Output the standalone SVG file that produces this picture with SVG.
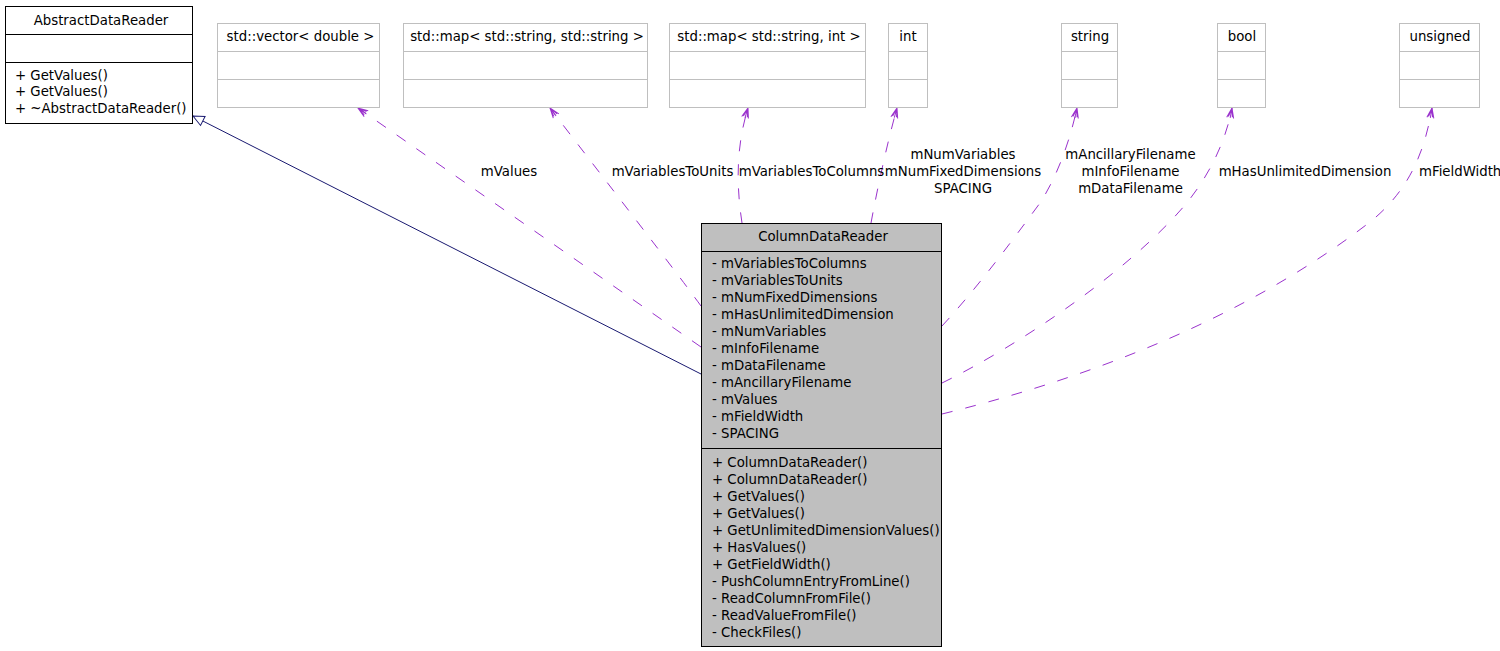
<svg xmlns="http://www.w3.org/2000/svg" width="1500" height="651" viewBox="0 0 1500 651">
<style>
text{font-family:"DejaVu Sans","Liberation Sans",sans-serif;font-size:13.3px;fill:#000}
.c{text-anchor:middle}
.box{fill:#fff;stroke:#000;stroke-width:1}
.gbox{fill:#fff;stroke:#bfbfbf;stroke-width:1}
.main{fill:#bfbfbf;stroke:#000;stroke-width:1}
.sep{stroke:#000;stroke-width:1}
.gsep{stroke:#bfbfbf;stroke-width:1}
.use{fill:none;stroke:#9a32cd;stroke-width:1;stroke-dasharray:11,13;marker-end:url(#vee)}
.inh{fill:none;stroke:#191970;stroke-width:1;marker-end:url(#tri)}
</style>
<defs>
<marker id="vee" viewBox="-12 -6 14 12" refX="0" refY="0" markerWidth="14" markerHeight="12" markerUnits="userSpaceOnUse" orient="auto">
<path d="M-10,-3.5 L0,0 L-10,3.5 M-10,0 L0,0 M-9,-2 L0,0 L-9,2" fill="none" stroke="#9a32cd" stroke-width="1"/>
</marker>
<marker id="tri" viewBox="-13 -7 15 14" refX="0" refY="0" markerWidth="15" markerHeight="14" markerUnits="userSpaceOnUse" orient="auto">
<path d="M0,0 L-11,-5 L-11,5 Z" fill="#fff" stroke="#191970" stroke-width="1"/>
</marker>
</defs>

<g id="connectors">
<path class="inh" d="M701,374 L193,116"/>
<path class="use" d="M701,347 L358,108"/>
<path class="use" d="M701,306 C675,270 605,180 550,108"/>
<path class="use" d="M742,223 C737,190 735,150 748,108"/>
<path class="use" d="M871,223 C878,185 888,140 897,108"/>
<path class="use" d="M942,326 C980,285 1020,230 1040,203 C1058,175 1070,140 1077,108"/>
<path class="use" d="M942,383 C1020,345 1130,270 1185,205 C1210,175 1226,140 1232,108"/>
<path class="use" d="M942,414 C1060,385 1230,330 1370,222 C1410,190 1425,150 1432,108"/>
<text class="c" x="509" y="175.7">mValues</text>
<text class="c" x="672.5" y="175.7">mVariablesToUnits</text>
<text class="c" x="811.5" y="175.7">mVariablesToColumns</text>
<text class="c" x="963" y="158.7">mNumVariables</text>
<text class="c" x="963" y="175.7">mNumFixedDimensions</text>
<text class="c" x="963" y="192.7">SPACING</text>
<text class="c" x="1130.5" y="158.7">mAncillaryFilename</text>
<text class="c" x="1130.5" y="175.7">mInfoFilename</text>
<text class="c" x="1130.5" y="192.7">mDataFilename</text>
<text class="c" x="1305" y="175.7">mHasUnlimitedDimension</text>
<text x="1419" y="175.7">mFieldWidth</text>
</g>

<g id="AbstractDataReader">
<rect class="box" x="5.5" y="6.5" width="187" height="117"/>
<line class="sep" x1="5.5" y1="34.5" x2="192.5" y2="34.5"/>
<line class="sep" x1="5.5" y1="62.5" x2="192.5" y2="62.5"/>
<text class="c" x="101" y="24.5">AbstractDataReader</text>
<text x="15" y="79.5">+ GetValues()</text>
<text x="15" y="96">+ GetValues()</text>
<text x="15" y="112.5">+ ~AbstractDataReader()</text>
</g>

<g id="vector_double">
<rect class="gbox" x="217.5" y="23.5" width="162" height="84"/>
<line class="gsep" x1="217.5" y1="51.5" x2="379.5" y2="51.5"/>
<line class="gsep" x1="217.5" y1="79.5" x2="379.5" y2="79.5"/>
<text class="c" x="300.5" y="40.5">std::vector&lt; double &gt;</text>
</g>

<g id="map_string_string">
<rect class="gbox" x="403.5" y="23.5" width="244" height="84"/>
<line class="gsep" x1="403.5" y1="51.5" x2="647.5" y2="51.5"/>
<line class="gsep" x1="403.5" y1="79.5" x2="647.5" y2="79.5"/>
<text class="c" x="527" y="40.5">std::map&lt; std::string, std::string &gt;</text>
</g>

<g id="map_string_int">
<rect class="gbox" x="669.5" y="23.5" width="196" height="84"/>
<line class="gsep" x1="669.5" y1="51.5" x2="865.5" y2="51.5"/>
<line class="gsep" x1="669.5" y1="79.5" x2="865.5" y2="79.5"/>
<text class="c" x="769" y="40.5">std::map&lt; std::string, int &gt;</text>
</g>

<g id="int">
<rect class="gbox" x="888.5" y="23.5" width="39" height="84"/>
<line class="gsep" x1="888.5" y1="51.5" x2="927.5" y2="51.5"/>
<line class="gsep" x1="888.5" y1="79.5" x2="927.5" y2="79.5"/>
<text class="c" x="908" y="40.5">int</text>
</g>

<g id="string">
<rect class="gbox" x="1061.5" y="23.5" width="56" height="84"/>
<line class="gsep" x1="1061.5" y1="51.5" x2="1117.5" y2="51.5"/>
<line class="gsep" x1="1061.5" y1="79.5" x2="1117.5" y2="79.5"/>
<text class="c" x="1090" y="40.5">string</text>
</g>

<g id="bool">
<rect class="gbox" x="1217.5" y="23.5" width="48" height="84"/>
<line class="gsep" x1="1217.5" y1="51.5" x2="1265.5" y2="51.5"/>
<line class="gsep" x1="1217.5" y1="79.5" x2="1265.5" y2="79.5"/>
<text class="c" x="1242" y="40.5">bool</text>
</g>

<g id="unsigned">
<rect class="gbox" x="1399.5" y="23.5" width="80" height="84"/>
<line class="gsep" x1="1399.5" y1="51.5" x2="1479.5" y2="51.5"/>
<line class="gsep" x1="1399.5" y1="79.5" x2="1479.5" y2="79.5"/>
<text class="c" x="1440" y="40.5">unsigned</text>
</g>

<g id="ColumnDataReader">
<rect class="main" x="701.5" y="223.5" width="240" height="423"/>
<line class="sep" x1="701.5" y1="251.5" x2="941.5" y2="251.5"/>
<line class="sep" x1="701.5" y1="448.5" x2="941.5" y2="448.5"/>
<text class="c" x="823" y="241.3">ColumnDataReader</text>
<text x="712" y="268.3">- mVariablesToColumns</text>
<text x="712" y="285.3">- mVariablesToUnits</text>
<text x="712" y="302.3">- mNumFixedDimensions</text>
<text x="712" y="319.3">- mHasUnlimitedDimension</text>
<text x="712" y="336.3">- mNumVariables</text>
<text x="712" y="353.3">- mInfoFilename</text>
<text x="712" y="370.3">- mDataFilename</text>
<text x="712" y="387.3">- mAncillaryFilename</text>
<text x="712" y="404.3">- mValues</text>
<text x="712" y="421.3">- mFieldWidth</text>
<text x="712" y="438.3">- SPACING</text>
<text x="712" y="466.7">+ ColumnDataReader()</text>
<text x="712" y="483.7">+ ColumnDataReader()</text>
<text x="712" y="500.7">+ GetValues()</text>
<text x="712" y="517.7">+ GetValues()</text>
<text x="712" y="534.7">+ GetUnlimitedDimensionValues()</text>
<text x="712" y="551.7">+ HasValues()</text>
<text x="712" y="568.7">+ GetFieldWidth()</text>
<text x="712" y="585.7">- PushColumnEntryFromLine()</text>
<text x="712" y="602.7">- ReadColumnFromFile()</text>
<text x="712" y="619.7">- ReadValueFromFile()</text>
<text x="712" y="636.7">- CheckFiles()</text>
</g>
</svg>
